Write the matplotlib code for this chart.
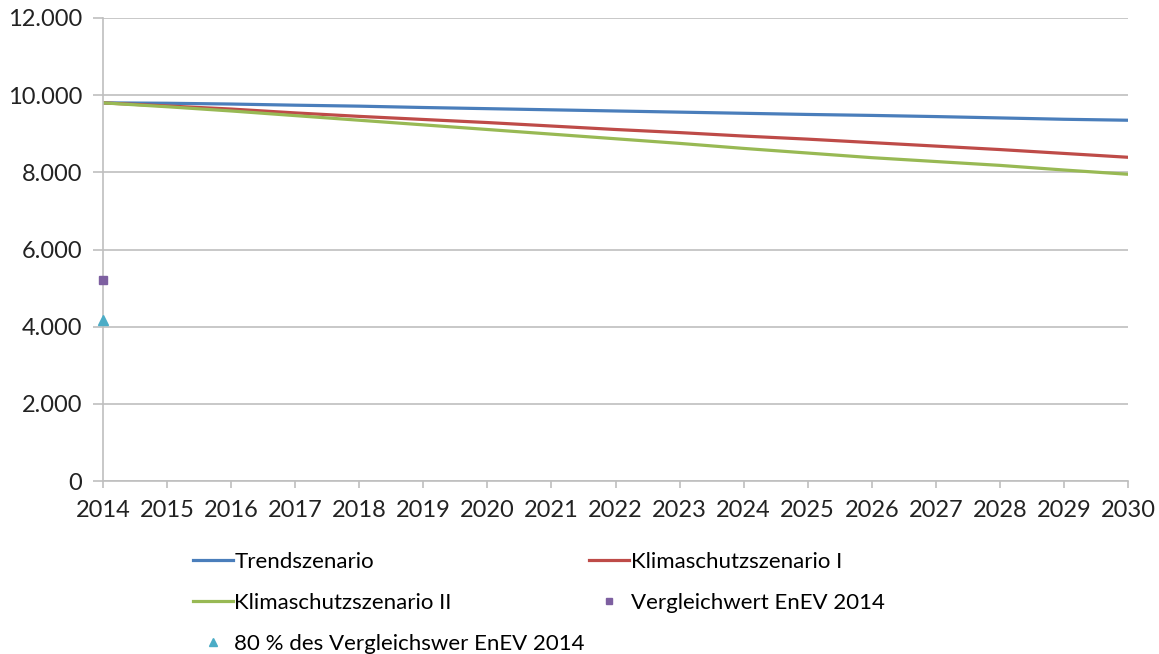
import matplotlib
matplotlib.use("Agg")
import matplotlib.pyplot as plt
from matplotlib.ticker import FuncFormatter

years = list(range(2014, 2031))
trend = [9800, 9790, 9770, 9740, 9715, 9680, 9650, 9620, 9590, 9560,
         9530, 9500, 9475, 9445, 9410, 9375, 9350]
klima1 = [9800, 9720, 9640, 9540, 9450, 9370, 9290, 9200, 9110, 9030,
          8940, 8860, 8770, 8680, 8590, 8490, 8390]
klima2 = [9800, 9700, 9590, 9470, 9350, 9230, 9110, 8990, 8870, 8750,
          8620, 8500, 8380, 8280, 8180, 8060, 7950]
enev_year = [2014]
enev_value = [5200]
enev80_value = [4160]

labels = ['Trendszenario', 'Klimaschutzszenario I', 'Klimaschutzszenario II',
          'Vergleichwert EnEV 2014', '80 % des Vergleichswer EnEV 2014']

plt.rcParams['font.family'] = ['Lato', 'DejaVu Sans']

fig = plt.figure(figsize=(11.59, 6.54), dpi=100)
ax = fig.add_axes([0.0889, 0.2645, 0.8844, 0.708])

grid_c = '#bfbfbf'
l1, = ax.plot(years, trend, color='#4a7ebb', lw=2.3, label=labels[0])
l2, = ax.plot(years, klima1, color='#be4b48', lw=2.3, label=labels[1])
l3, = ax.plot(years, klima2, color='#98b954', lw=2.3, label=labels[2])
m1, = ax.plot(enev_year, enev_value, 's', color='#7d5fa0', ms=6, label=labels[3],
              clip_on=False, zorder=5)
m2, = ax.plot(enev_year, enev80_value, '^', color='#4bacc6', ms=7, label=labels[4],
              clip_on=False, zorder=5)

ax.set_xlim(2014, 2030)
ax.set_ylim(0, 12000)
ax.set_xticks(years)
ax.set_yticks(range(0, 12001, 2000))
ax.yaxis.set_major_formatter(FuncFormatter(lambda v, p: f'{int(v):,}'.replace(',', '.')))
ax.grid(axis='y', color=grid_c, lw=1.2)
ax.set_axisbelow(True)
for s in ['top', 'right']:
    ax.spines[s].set_visible(False)
for s in ['left', 'bottom']:
    ax.spines[s].set_color(grid_c)
    ax.spines[s].set_linewidth(1.2)
ax.tick_params(axis='both', colors=grid_c, width=1.2, labelsize=17,
               labelcolor='#222222')
ax.tick_params(axis='y', length=7, pad=8)
ax.tick_params(axis='x', length=5, pad=9)

handles = [l1, l3, m2, l2, m1]
fig.legend(handles, [h.get_label() for h in handles], ncol=2,
           loc='upper left', bbox_to_anchor=(0.149, 0.187), frameon=False,
           fontsize=16, handlelength=1.8, handletextpad=0.08,
           columnspacing=0.2, labelspacing=0.95, markerscale=0.75)

fig.savefig('out.png', dpi=100)
